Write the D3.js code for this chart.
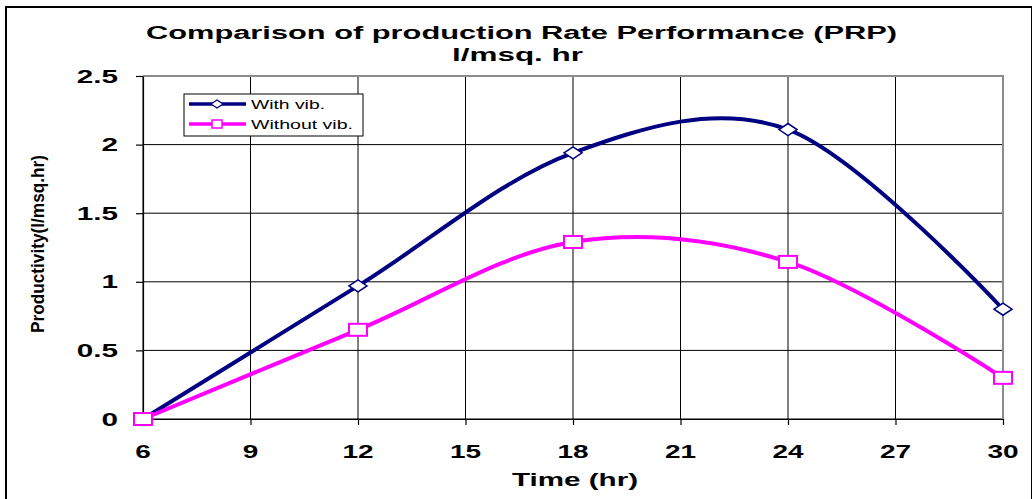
<!DOCTYPE html>
<html>
<head>
<meta charset="utf-8">
<script src="https://cdn.jsdelivr.net/npm/d3@7/dist/d3.min.js"></script>
<style>
  html, body { margin: 0; padding: 0; background: #fff; }
  svg { display: block; font-family: 'Liberation Sans', Arial, sans-serif; }
</style>
</head>
<body>
<div class="chart-container"></div>
<script>
/* global d3 */
'use strict';

var hours = [6, 12, 18, 24, 30];
var withVib = [0, 0.97, 1.94, 2.11, 0.80];
var withoutVib = [0, 0.65, 1.29, 1.145, 0.30];
var xTicks = [6, 9, 12, 15, 18, 21, 24, 27, 30];
var yTicks = [0, 0.5, 1, 1.5, 2, 2.5];
var seriesNames = ['With vib.', 'Without vib.'];

var W = 1032, H = 499;
var plot = { left: 143, right: 1003, top: 76, bottom: 419 };
var navy = '#000080', magenta = '#ff00ff';

var svg = d3.select('.chart-container')
    .append('svg')
    .attr('width', W)
    .attr('height', H);

// outer frame (right and bottom edges fall outside the picture)
svg.append('rect')
    .attr('x', 6).attr('y', 7)
    .attr('width', 1026).attr('height', 510)
    .attr('fill', 'none')
    .attr('stroke', '#000')
    .attr('stroke-width', 2);

var x = d3.scaleLinear().domain([6, 30]).range([plot.left, plot.right]);
var y = d3.scaleLinear().domain([0, 2.5]).range([plot.bottom, plot.top]);

// stretched text helper: the original chart is wide, so glyphs are scaled in x
function wideText(sel, sx) {
    sel.attr('transform', function() {
        var px = +d3.select(this).attr('data-x'), py = +d3.select(this).attr('data-y');
        return 'translate(' + px + ',' + py + ') scale(' + sx + ',1)';
    });
}

// grid
svg.append('g')
    .selectAll('line')
    .data(xTicks)
    .enter().append('line')
    .attr('x1', function(d) { return x(d); })
    .attr('x2', function(d) { return x(d); })
    .attr('y1', plot.top)
    .attr('y2', plot.bottom)
    .attr('stroke', '#000')
    .attr('stroke-width', 1);

svg.append('g')
    .selectAll('line')
    .data(yTicks)
    .enter().append('line')
    .attr('x1', plot.left)
    .attr('x2', plot.right)
    .attr('y1', function(d) { return y(d); })
    .attr('y2', function(d) { return y(d); })
    .attr('stroke', '#000')
    .attr('stroke-width', 1);

// top / right border grey
svg.append('path')
    .attr('d', 'M' + plot.left + ',' + plot.top + 'H' + plot.right + 'V' + plot.bottom)
    .attr('fill', 'none')
    .attr('stroke', '#8c8c8c')
    .attr('stroke-width', 2);

// axes (tick marks only, labels drawn below)
var xAxis = svg.append('g')
    .attr('transform', 'translate(0,' + plot.bottom + ')')
    .call(d3.axisBottom(x).tickValues(xTicks).tickSize(6).tickSizeOuter(0).tickFormat(''));
var yAxis = svg.append('g')
    .attr('transform', 'translate(' + plot.left + ',0)')
    .call(d3.axisLeft(y).tickValues(yTicks).tickSize(7).tickSizeOuter(0).tickFormat(''));
[xAxis, yAxis].forEach(function(a) {
    a.selectAll('path, line').attr('stroke', '#000').attr('stroke-width', 1.2);
});

// tick labels
svg.append('g')
    .selectAll('text')
    .data(xTicks)
    .enter().append('text')
    .attr('data-x', function(d) { return x(d); })
    .attr('data-y', 458)
    .attr('text-anchor', 'middle')
    .attr('font-size', 17.5)
    .attr('font-weight', 'bold')
    .text(function(d) { return d; })
    .call(wideText, 1.6);

svg.append('g')
    .selectAll('text')
    .data(yTicks)
    .enter().append('text')
    .attr('data-x', 118)
    .attr('data-y', function(d) { return y(d) + 6.5; })
    .attr('text-anchor', 'end')
    .attr('font-size', 18)
    .attr('font-weight', 'bold')
    .text(function(d) { return d; })
    .call(wideText, 1.65);

// titles
svg.append('text')
    .attr('x', 146).attr('y', 39)
    .attr('font-size', 17.5).attr('font-weight', 'bold')
    .attr('textLength', 751).attr('lengthAdjust', 'spacingAndGlyphs')
    .text('Comparison of production Rate Performance  (PRP)');
svg.append('text')
    .attr('x', 452).attr('y', 61)
    .attr('font-size', 17.5).attr('font-weight', 'bold')
    .attr('textLength', 131).attr('lengthAdjust', 'spacingAndGlyphs')
    .text('l/msq. hr');
svg.append('text')
    .attr('x', 512).attr('y', 486)
    .attr('font-size', 17.5).attr('font-weight', 'bold')
    .attr('textLength', 126).attr('lengthAdjust', 'spacingAndGlyphs')
    .text('Time (hr)');
svg.append('text')
    .attr('transform', 'translate(44,333) rotate(-90)')
    .attr('font-size', 19).attr('font-weight', 'bold')
    .attr('textLength', 178).attr('lengthAdjust', 'spacingAndGlyphs')
    .text('Productivity(l/msq.hr)');

// series
var line = d3.line()
    .x(function(d) { return x(d[0]); })
    .y(function(d) { return y(d[1]); })
    .curve(d3.curveCardinal.tension(0));

function diamond(g, cx, cy) {
    g.append('path')
        .attr('d', 'M' + (cx - 9) + ',' + cy + 'L' + cx + ',' + (cy - 6) +
            'L' + (cx + 9) + ',' + cy + 'L' + cx + ',' + (cy + 6) + 'Z')
        .attr('fill', '#fff')
        .attr('stroke', navy)
        .attr('stroke-width', 1.5);
}
function square(g, cx, cy) {
    g.append('rect')
        .attr('x', cx - 9).attr('y', cy - 6)
        .attr('width', 18).attr('height', 12)
        .attr('fill', '#fff')
        .attr('stroke', magenta)
        .attr('stroke-width', 2);
}

var series = [
    { values: withVib, color: navy, marker: diamond },
    { values: withoutVib, color: magenta, marker: square }
];

series.forEach(function(s) {
    var pts = hours.map(function(h, i) { return [h, s.values[i]]; });
    var g = svg.append('g');
    g.append('path')
        .attr('d', line(pts))
        .attr('fill', 'none')
        .attr('stroke', s.color)
        .attr('stroke-width', 4);
    pts.forEach(function(p) { s.marker(g, x(p[0]), y(p[1])); });
});

// legend
var lg = svg.append('g');
lg.append('rect')
    .attr('x', 184).attr('y', 94)
    .attr('width', 179).attr('height', 42)
    .attr('fill', '#fff')
    .attr('stroke', '#000')
    .attr('stroke-width', 1);
[104, 124].forEach(function(ly, i) {
    lg.append('line')
        .attr('x1', 189).attr('x2', 246)
        .attr('y1', ly).attr('y2', ly)
        .attr('stroke', series[i].color)
        .attr('stroke-width', 3.5);
    if (i === 0) {
        lg.append('path')
            .attr('d', 'M211,' + ly + 'L217,' + (ly - 4) + 'L223,' + ly + 'L217,' + (ly + 4) + 'Z')
            .attr('fill', '#fff').attr('stroke', navy).attr('stroke-width', 1.3);
    } else {
        lg.append('rect')
            .attr('x', 212).attr('y', ly - 4).attr('width', 10).attr('height', 8)
            .attr('fill', '#fff').attr('stroke', magenta).attr('stroke-width', 1.5);
    }
    lg.append('text')
        .attr('x', 251).attr('y', ly + 5)
        .attr('font-size', 13)
        .attr('textLength', i === 0 ? 74 : 102)
        .attr('lengthAdjust', 'spacingAndGlyphs')
        .text(seriesNames[i]);
});
</script>
</body>
</html>
